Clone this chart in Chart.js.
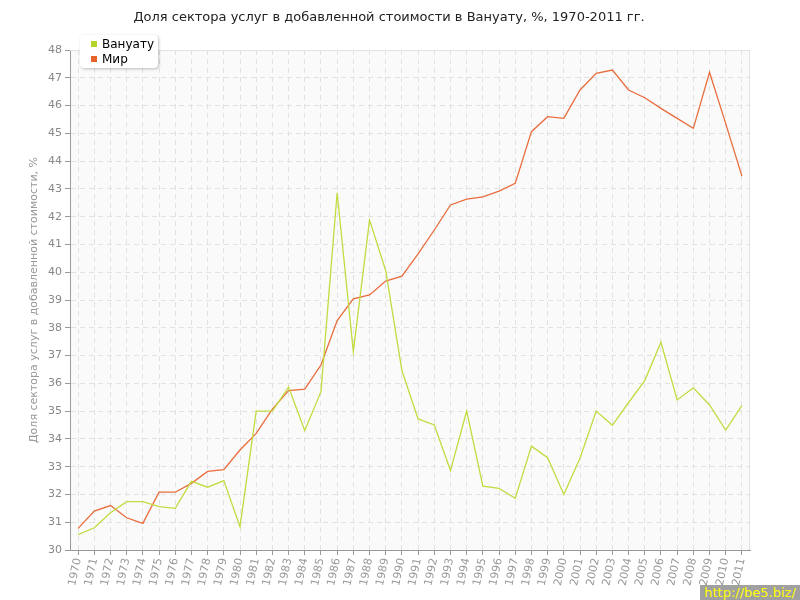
<!DOCTYPE html>
<html>
<head>
<meta charset="utf-8">
<script src="https://cdn.jsdelivr.net/npm/chart.js@4"></script>
<style>
    html, body { margin: 0; padding: 0; background: #fff; }
    #wrap { position: relative; width: 800px; height: 600px; font-family: "DejaVu Sans", sans-serif; }
    #legend {
        position: absolute; left: 80px; top: 35px; width: 78px; height: 33px;
        background: #fff; border-radius: 4px; box-shadow: 1px 1px 3px rgba(0,0,0,0.25);
        font-size: 12px; color: #000;
    }
    #legend div { position: absolute; left: 11px; height: 14px; line-height: 14px; }
    #legend span { display: inline-block; width: 6px; height: 6px; margin-right: 5px; vertical-align: 1px; }
    #mark {
        position: absolute; left: 700px; top: 585px; width: 100px; height: 15px;
        background: #a0a0a0; color: #ffff00; font-size: 13px; line-height: 15px; text-align: center;
    }
</style>
</head>
<body>
<div id="wrap">
    <canvas id="chart" width="800" height="600"></canvas>
    <div id="legend"></div>
    <div id="mark">http://be5.biz/</div>
</div>
<script>
const years = ['1970', '1971', '1972', '1973', '1974', '1975', '1976', '1977', '1978', '1979',
    '1980', '1981', '1982', '1983', '1984', '1985', '1986', '1987', '1988', '1989',
    '1990', '1991', '1992', '1993', '1994', '1995', '1996', '1997', '1998', '1999',
    '2000', '2001', '2002', '2003', '2004', '2005', '2006', '2007', '2008', '2009',
    '2010', '2011'];

const vanuatu = [30.55, 30.8, 31.34, 31.74, 31.74, 31.56, 31.5, 32.47, 32.26, 32.5,
    30.84, 35.0, 35.0, 35.86, 34.3, 35.7, 42.86, 37.14, 41.88, 40.06,
    36.46, 34.72, 34.5, 32.86, 35.0, 32.3, 32.22, 31.86, 33.74, 33.32,
    32.0, 33.3, 35.0, 34.49, 35.31, 36.1, 37.48, 35.4, 35.84, 35.22,
    34.32, 35.2];

const world = [30.78, 31.4, 31.6, 31.16, 30.96, 32.08, 32.08, 32.4, 32.83, 32.89,
    33.6, 34.2, 35.07, 35.74, 35.79, 36.66, 38.26, 39.04, 39.18, 39.68,
    39.86, 40.66, 41.52, 42.42, 42.63, 42.71, 42.92, 43.2, 45.06, 45.6,
    45.54, 46.56, 47.16, 47.28, 46.56, 46.28, 45.9, 45.54, 45.18, 47.2,
    45.35, 43.46];

const yMin = 30;
const yMax = 48;

const series = [
    { label: 'Вануату', data: vanuatu, color: '#c0dc40', key: '#b4d52a' },
    { label: 'Мир', data: world, color: '#e96c3c', key: '#e8622c' }
];

// html legend, sits over the top of the plot like the original
const legendEl = document.getElementById('legend');
series.forEach((s, i) => {
    const row = document.createElement('div');
    row.style.top = (2 + i * 15) + 'px';
    row.innerHTML = '<span style="background:' + s.key + '"></span>' + s.label;
    legendEl.appendChild(row);
});

const plotBackground = {
    id: 'plotBackground',
    beforeDraw(chart) {
        const { ctx, chartArea: a } = chart;
        ctx.save();
        ctx.fillStyle = '#fafafa';
        ctx.fillRect(a.left, a.top, a.right - a.left, a.bottom - a.top);
        ctx.restore();
    },
    afterDatasetsDraw(chart) {
        const { ctx, chartArea: a } = chart;
        ctx.save();
        ctx.strokeStyle = '#e2e2e2';
        ctx.lineWidth = 1;
        ctx.beginPath();
        ctx.moveTo(a.left, a.top + 0.5);
        ctx.lineTo(a.right - 0.5, a.top + 0.5);
        ctx.lineTo(a.right - 0.5, a.bottom);
        ctx.stroke();
        ctx.restore();
    }
};

const gridOpts = {
    color: '#e2e2e2',
    tickColor: '#999',
    tickBorderDash: [],
    tickLength: 5
};

const ctx = document.getElementById('chart').getContext('2d');

new Chart(ctx, {
    type: 'line',
    data: {
        labels: years,
        datasets: series.map(s => ({
            label: s.label,
            data: s.data,
            borderColor: s.color,
            backgroundColor: s.color,
            borderWidth: 1.3,
            pointRadius: 0,
            tension: 0,
            fill: false
        }))
    },
    options: {
        responsive: false,
        animation: false,
        layout: {
            padding: { left: 28, right: 50, top: 0, bottom: 0 }
        },
        plugins: {
            legend: { display: false },
            tooltip: { enabled: false },
            title: {
                display: true,
                text: 'Доля сектора услуг в добавленной стоимости в Вануату, %, 1970-2011 гг.',
                color: '#222',
                font: { family: 'DejaVu Sans', size: 13, weight: 'normal' },
                padding: { top: 10, bottom: 24.4 }
            }
        },
        scales: {
            x: {
                offset: true,
                afterFit(scale) { scale.height = 50; },
                grid: Object.assign({ offset: false }, gridOpts),
                border: { color: '#999', width: 1, dash: [5, 4] },
                ticks: {
                    color: '#999',
                    font: { family: 'DejaVu Sans', size: 11 },
                    minRotation: 78,
                    maxRotation: 78,
                    autoSkip: false,
                    padding: 2
                }
            },
            y: {
                min: yMin,
                max: yMax,
                afterFit(scale) { scale.width = 42; },
                grid: Object.assign({}, gridOpts),
                border: { color: '#999', width: 1, dash: [5, 4] },
                ticks: {
                    stepSize: 1,
                    color: '#888',
                    font: { family: 'DejaVu Sans', size: 11 },
                    padding: 3
                },
                title: {
                    display: true,
                    text: 'Доля сектора услуг в добавленной стоимости, %',
                    color: '#999',
                    font: { family: 'DejaVu Sans', size: 11 },
                    padding: { top: 0, bottom: 0 }
                }
            }
        }
    },
    plugins: [plotBackground]
});
</script>
</body>
</html>
